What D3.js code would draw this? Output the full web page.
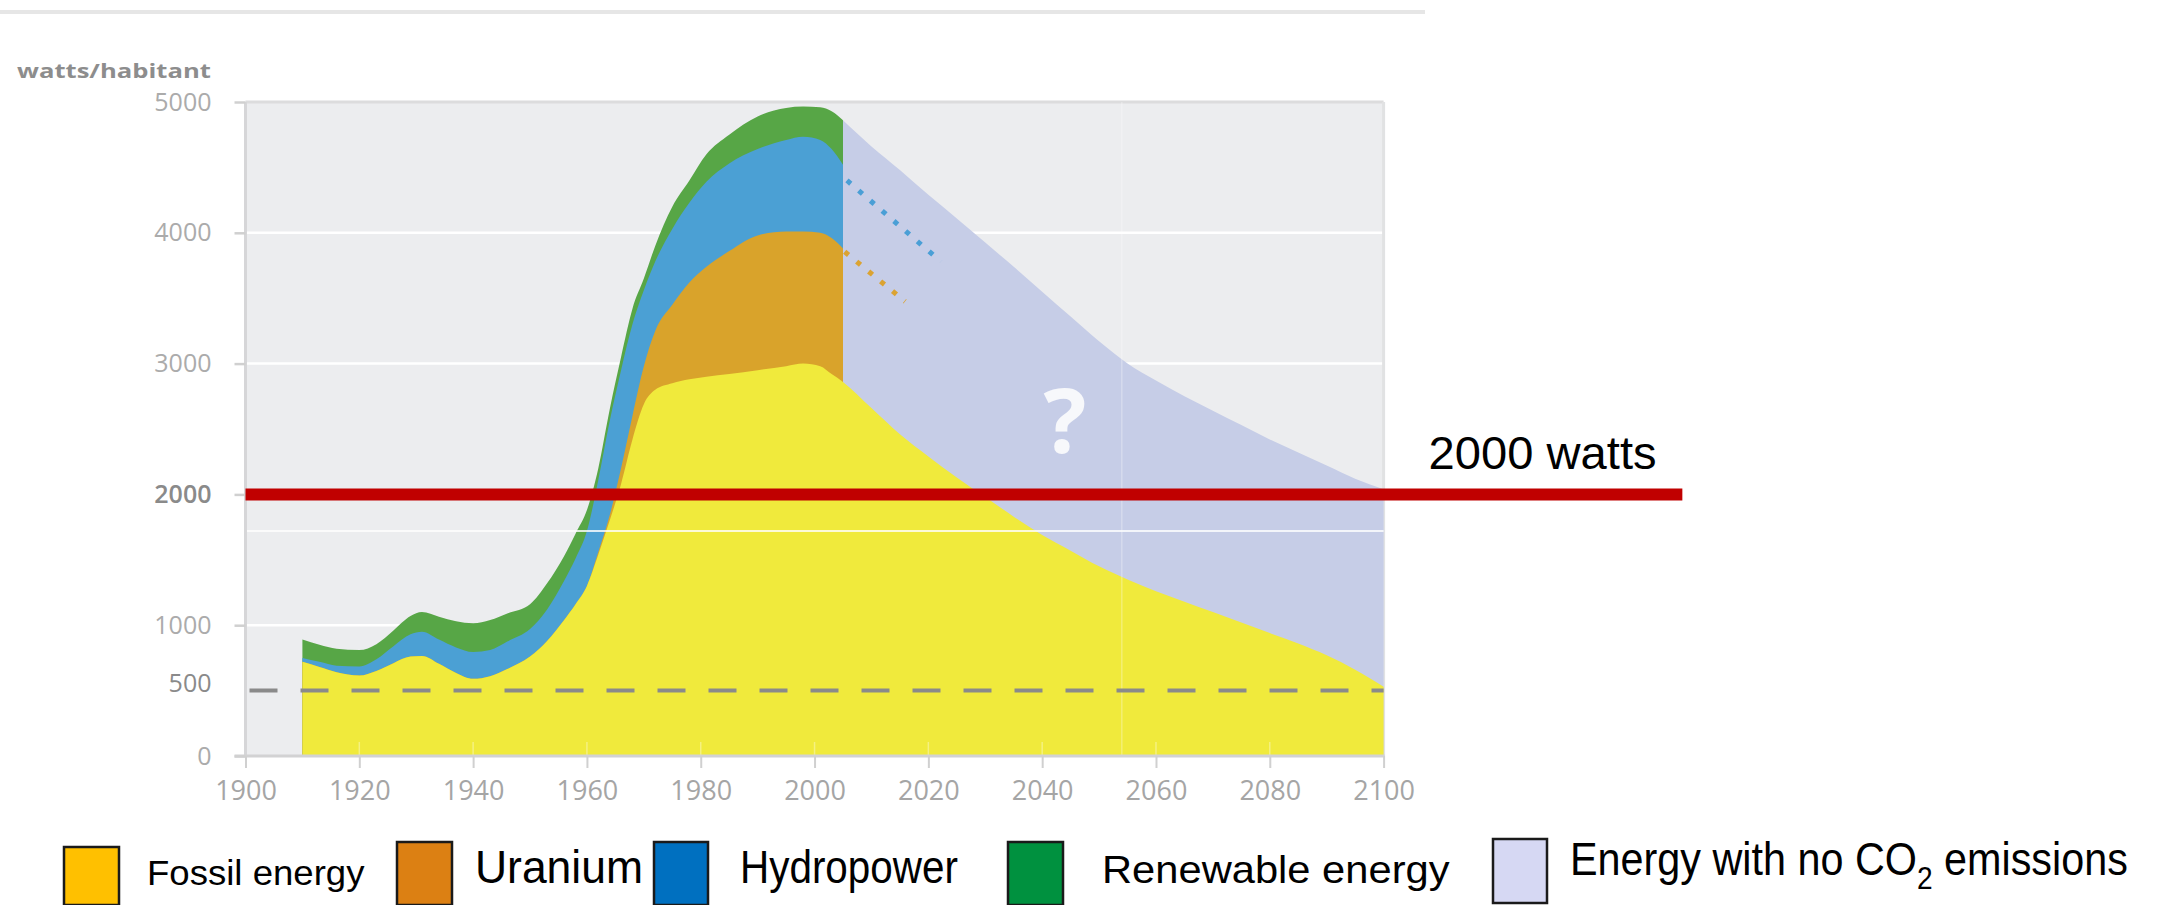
<!DOCTYPE html>
<html><head><meta charset="utf-8">
<script src="https://cdn.jsdelivr.net/npm/d3@7"></script>
<style>
html,body{margin:0;padding:0;background:#fff;}
svg{display:block;}
</style></head>
<body>
<svg id="chart" width="2163" height="905"></svg>
<script>
// ---------------- data ----------------
const histYears     = [1910,1913,1916,1920,1923,1926,1929,1931,1934,1937,1940,1943,1946,1950,1953,1956,1958,1960,1962,1964,1966,1968,1970,1972,1975,1978,1981,1985,1990,1995,1998,2001,2003,2005];
const histFossil    = [720, 680, 640, 615, 650, 710, 760, 765, 705, 635, 590, 610, 665, 760, 880,1040,1160,1300,1540,1800,2080,2420,2690,2800,2850,2880,2900,2920,2950,2980,3000,2980,2920,2860];
const histUranium   = [  0,   0,   0,   0,   0,   0,   0,   0,   0,   0,   0,   0,   0,   0,   0,   0,   0,   0,  20,  40, 120, 180, 290, 450, 600, 740, 840, 940,1030,1030,1010,1020,1040,1020];
const histHydro     = [ 30,  40,  50,  70,  90, 130, 170, 185, 185, 195, 205, 200, 210, 210, 240, 300, 350, 420, 550, 720, 750, 700, 580, 530, 580, 610, 650, 670, 660, 700, 725, 710, 680, 640];
const histRenewable = [140, 130, 130, 125, 115, 120, 140, 150, 175, 200, 220, 230, 215, 190, 200, 190, 190, 160,  90,  90, 100, 120,  90, 120, 170, 170, 210, 220, 250, 245, 230, 250, 290, 340];

const projYears  = [2005,2010,2015,2020,2025,2030,2035,2040,2045,2050,2055,2060,2065,2070,2075,2080,2085,2090,2095,2100];
const projFossil = [2860,2660,2460,2290,2130,1980,1830,1690,1570,1450,1350,1260,1180,1100,1020, 940, 860, 770, 660, 530];
const projNoCO2  = [2000,2000,2020,2000,1980,1945,1910,1860,1790,1720,1650,1610,1570,1540,1510,1480,1460,1450,1460,1510];

const hydroTrendYears    = [2005.7, 2022.2];
const hydroTrendValues   = [4400, 3780];
const uraniumTrendYears  = [2005.3, 2015.9];
const uraniumTrendValues = [3855, 3475];

const xTicks = [1900,1920,1940,1960,1980,2000,2020,2040,2060,2080,2100];
const yTicks = [0,500,1000,2000,3000,4000,5000];
const gridValues = [1000,2000,3000,4000];
const targetValue = 2000;          // red line
const targetLineYears = [1900, 2152.5];
const floorValue = 500;            // dashed line
const seamValue = 1720;            // faint white line across the plot
const seamYear = 2054;             // faint vertical line
const yTitle = "watts/habitant";
const targetLabel = "2000 watts";
const questionLabel = "?";
const legendLabels = ["Fossil energy","Uranium","Hydropower","Renewable energy","Energy with no CO2 emissions"];

// ---------------- styles ----------------
const areaColors = {fossil:"#F0EA3C", uranium:"#D9A32B", hydro:"#4BA0D4", renew:"#57A646", noco2:"#C6CDE7"};
const legendColors = ["#FFC000","#DC8013","#0070C0","#00913F","#D6D8F3"];

const svg = d3.select("#chart");
const x = d3.scaleLinear().domain([1900,2100]).range([245.5,1383.6]);
const y = d3.scaleLinear().domain([0,5000]).range([756,102]);

// page top rule
svg.append("line").attr("x1",0).attr("x2",1425).attr("y1",12).attr("y2",12)
  .attr("stroke","#e6e6e6").attr("stroke-width",4);

// plot background
svg.append("rect").attr("x",x(1900)).attr("y",y(5000))
  .attr("width",x(2100)-x(1900)).attr("height",y(0)-y(5000)).attr("fill","#ECEDEF");

// gridlines
svg.append("g").selectAll("line").data(gridValues).join("line")
  .attr("x1",x(1900)).attr("x2",x(2100)).attr("y1",d=>y(d)).attr("y2",d=>y(d))
  .attr("stroke","#ffffff").attr("stroke-width",2.5);
svg.append("line").attr("x1",x(1900)).attr("x2",x(2100)).attr("y1",y(5000)).attr("y2",y(5000))
  .attr("stroke","#dcdcdd").attr("stroke-width",3);
svg.append("line").attr("x1",x(2100)).attr("x2",x(2100)).attr("y1",y(5000)).attr("y2",y(0))
  .attr("stroke","#e1e2e3").attr("stroke-width",3);

// ---------------- areas ----------------
const histRows = histYears.map((yr,i)=>({year:yr, fossil:histFossil[i], uranium:histUranium[i], hydro:histHydro[i], renew:histRenewable[i]}));
const projRows = projYears.map((yr,i)=>({year:yr, fossil:projFossil[i], noco2:projNoCO2[i]}));
const histStack = d3.stack().keys(["fossil","uranium","hydro","renew"])(histRows);
const projStack = d3.stack().keys(["fossil","noco2"])(projRows);

const curve = d3.curveMonotoneX;
const areaFromZero = d3.area().curve(curve)
  .x(d=>x(d.data.year)).y0(y(0)).y1(d=>y(d[1]));

const gAreas = svg.append("g");
gAreas.append("path").datum(projStack[1]).attr("d",areaFromZero).attr("fill",areaColors.noco2);
[["renew",3],["hydro",2],["uranium",1]].forEach(([k,i])=>{
  gAreas.append("path").datum(histStack[i]).attr("d",areaFromZero).attr("fill",areaColors[k]);
});
const fossilAll = histYears.map((yr,i)=>({year:yr,v:histFossil[i]}))
  .concat(projYears.slice(1).map((yr,i)=>({year:yr,v:projFossil[i+1]})));
gAreas.append("path").datum(fossilAll)
  .attr("d", d3.area().curve(curve).x(d=>x(d.year)).y0(y(0)).y1(d=>y(d.v)))
  .attr("fill",areaColors.fossil);

// faint seams on top
svg.append("line").attr("x1",x(1900)).attr("x2",x(2100)).attr("y1",y(seamValue)).attr("y2",y(seamValue))
  .attr("stroke","#ffffff").attr("stroke-width",2).attr("opacity",0.8);
svg.append("line").attr("x1",x(seamYear)).attr("x2",x(seamYear)).attr("y1",y(5000)).attr("y2",y(0))
  .attr("stroke","#ffffff").attr("stroke-width",1.2).attr("opacity",0.35);

// faint inner ticks
svg.append("g").selectAll("line").data(xTicks.slice(1,-1)).join("line")
  .attr("x1",d=>x(d)).attr("x2",d=>x(d)).attr("y1",y(0)-14).attr("y2",y(0))
  .attr("stroke","#ffffff").attr("stroke-width",1.5).attr("opacity",0.35);

// dotted trend lines
const trendLine = d3.line().x(d=>x(d[0])).y(d=>y(d[1]));
svg.append("path").datum(hydroTrendYears.map((yr,i)=>[yr,hydroTrendValues[i]]))
  .attr("d",trendLine).attr("fill","none").attr("stroke","#4a9fd6").attr("stroke-width",5)
  .attr("stroke-dasharray","5 10.5");
svg.append("path").datum(uraniumTrendYears.map((yr,i)=>[yr,uraniumTrendValues[i]]))
  .attr("d",trendLine).attr("fill","none").attr("stroke","#dba332").attr("stroke-width",5)
  .attr("stroke-dasharray","5 10.5");

// dashed 500 line
svg.append("line").attr("x1",x(1900)+4).attr("x2",x(2100)).attr("y1",y(floorValue)).attr("y2",y(floorValue))
  .attr("stroke","#8a8a8a").attr("stroke-width",4).attr("stroke-dasharray","28 23");

// question mark
svg.append("text").attr("x",x(2044)).attr("y",y(2320)).attr("text-anchor","middle")
  .attr("font-family","'Open Sans', 'DejaVu Sans', sans-serif").attr("font-weight","bold")
  .attr("font-size",90).attr("fill","#f7f8fb").text(questionLabel);

// ---------------- axes ----------------
const axisFont = "'Open Sans', 'DejaVu Sans', sans-serif";
svg.append("line").attr("x1",x(1900)).attr("x2",x(1900)).attr("y1",y(5000)).attr("y2",y(0))
  .attr("stroke","#d6d6d8").attr("stroke-width",3);
svg.append("line").attr("x1",x(1900)-11).attr("x2",x(2100)+1).attr("y1",y(0)).attr("y2",y(0))
  .attr("stroke","#d2d2d3").attr("stroke-width",3);

const yAxis = svg.append("g").attr("transform",`translate(${x(1900)},0)`)
  .call(d3.axisLeft(y).tickValues(yTicks).tickSize(11).tickPadding(23).tickFormat(d3.format("d")));
yAxis.select(".domain").remove();
yAxis.selectAll(".tick line").attr("stroke","#d0d0d0").attr("stroke-width",2.5);
yAxis.selectAll(".tick text").attr("font-family",axisFont).attr("font-size",25)
  .attr("fill",d=> (d===2000||d===500) ? "#8a8a8a" : "#ababab")
  .attr("font-weight",d=> d===2000 ? "600" : "normal");
yAxis.selectAll(".tick").filter(d=>d===500).select("line").remove();
yAxis.selectAll(".tick").filter(d=>d===500).select("text").attr("dy","0.05em");

const xAxis = svg.append("g").attr("transform",`translate(0,${y(0)})`)
  .call(d3.axisBottom(x).tickValues(xTicks).tickSize(12).tickFormat(d3.format("d")));
xAxis.select(".domain").remove();
xAxis.selectAll(".tick line").attr("stroke","#d0d0d0").attr("stroke-width",2);
xAxis.selectAll(".tick text").attr("font-family",axisFont).attr("font-size",27)
  .attr("fill","#a5a5a5").attr("y",44).attr("dy",0);

const yt = svg.append("text").attr("font-family",axisFont).attr("font-weight","bold")
  .attr("font-size",19).attr("fill","#8d8d8d").text(yTitle);
{
  const w = yt.node().getComputedTextLength();
  const k = 194 / w;
  yt.attr("transform",`translate(${211-194},78) scale(${k},1)`);
}

// red 2000 line
svg.append("line").attr("x1",x(targetLineYears[0])).attr("x2",x(targetLineYears[1]))
  .attr("y1",y(targetValue)).attr("y2",y(targetValue))
  .attr("stroke","#C00000").attr("stroke-width",12);

const tl = svg.append("text").attr("font-family","'Liberation Sans', Arial, sans-serif")
  .attr("font-size",46).attr("fill","#000").text(targetLabel);
{
  const w = tl.node().getComputedTextLength();
  const k = 228 / w;
  tl.attr("transform",`translate(${x(2100)+45},${y(targetValue)-25}) scale(${k},1)`);
}

// ---------------- legend ----------------
const legendBoxes = [
  {x:64, y:847, w:55, h:58},
  {x:397,y:842, w:55, h:63},
  {x:654,y:842, w:54, h:63},
  {x:1008,y:842,w:55, h:63},
  {x:1493,y:839,w:54, h:64}
];
const legendText = [
  {x:147, base:885, cap:25, w:218},
  {x:475, base:883, cap:33, w:168},
  {x:740, base:883, cap:33, w:218},
  {x:1102,base:883, cap:28, w:348},
  {x:1570,base:875, cap:33, w:558}
];
const gl = svg.append("g");
legendLabels.forEach((lab,i)=>{
  const b = legendBoxes[i];
  gl.append("rect").attr("x",b.x).attr("y",b.y).attr("width",b.w).attr("height",b.h)
    .attr("fill",legendColors[i]).attr("stroke","#1a1a1a").attr("stroke-width",2.5);
  const t = legendText[i];
  const fs = t.cap/0.716;
  const txt = gl.append("text").attr("font-family","'Liberation Sans', Arial, sans-serif")
    .attr("font-size",fs).attr("fill","#000");
  const m = lab.match(/^(.*CO)2(.*)$/);
  if (m) {
    txt.append("tspan").text(m[1]);
    txt.append("tspan").attr("font-size",fs*0.68).attr("dy",fs*0.3).text("2");
    txt.append("tspan").attr("dy",-fs*0.3).text(m[2]);
  } else {
    txt.text(lab);
  }
  const w = txt.node().getBBox().width;
  const k = t.w / w;
  txt.attr("transform",`translate(${t.x},${t.base}) scale(${k},1)`);
});
</script>
</body></html>
